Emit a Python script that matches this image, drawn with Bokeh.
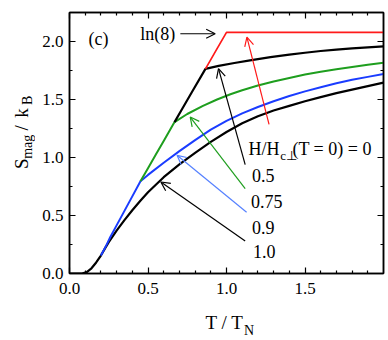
import numpy as np
from bokeh.plotting import figure
from bokeh.layouts import row, column
from bokeh.models import (LinearAxis, FixedTicker, Range1d, Label, Arrow, OpenHead,
                          PrintfTickFormatter)
from bokeh.embed import file_html
from bokeh.resources import INLINE

# ---------------- data ----------------
# H/Hc = 1.0 (black, lowest curve)
T_h10 = [0.0, 0.08, 0.11, 0.14, 0.17, 0.20, 0.23, 0.25, 0.30, 0.35, 0.40, 0.45, 0.50,
         0.55, 0.60, 0.70, 0.80, 0.90, 1.00, 1.10, 1.20, 1.30, 1.40, 1.50, 1.60,
         1.70, 1.80, 1.90, 2.00]
S_h10 = [0.0, 0.0, 0.012, 0.045, 0.095, 0.155, 0.225, 0.27, 0.37, 0.46, 0.545, 0.625, 0.70,
         0.765, 0.83, 0.94, 1.04, 1.135, 1.22, 1.295, 1.355, 1.405, 1.445, 1.485, 1.52,
         1.555, 1.585, 1.615, 1.645]
# H/Hc = 0.9 (blue)
T_h09 = [0.20, 0.23, 0.26, 0.30, 0.35, 0.40, 0.452, 0.50, 0.60, 0.70, 0.80, 0.90, 1.00,
         1.10, 1.20, 1.30, 1.40, 1.50, 1.60, 1.70, 1.80, 1.90, 2.00]
S_h09 = [0.155, 0.23, 0.315, 0.415, 0.54, 0.665, 0.795, 0.85, 0.955, 1.055, 1.15, 1.24, 1.315,
         1.38, 1.435, 1.485, 1.53, 1.57, 1.605, 1.64, 1.67, 1.695, 1.72]
# H/Hc = 0.75 (green)
T_h075 = [0.452, 0.50, 0.55, 0.60, 0.669, 0.75, 0.85, 0.94, 1.025, 1.10, 1.20, 1.30, 1.40,
          1.50, 1.60, 1.70, 1.80, 1.90, 2.00]
S_h075 = [0.795, 0.908, 1.025, 1.142, 1.305, 1.375, 1.445, 1.50, 1.545, 1.58, 1.62, 1.655,
          1.685, 1.715, 1.74, 1.76, 1.78, 1.80, 1.816]
# H/Hc = 0.5 (black, upper)
T_h05 = [0.669, 0.72, 0.78, 0.866, 0.95, 1.05, 1.15, 1.28, 1.40, 1.50, 1.60, 1.70, 1.80,
         1.90, 2.00]
S_h05 = [1.305, 1.424, 1.565, 1.764, 1.79, 1.815, 1.838, 1.865, 1.887, 1.903, 1.918, 1.93,
         1.941, 1.95, 1.958]
# H/Hc = 0 (red)
T_h0 = [0.866, 0.93, 1.00, 2.00]
S_h0 = [1.764, 1.915, 2.079, 2.079]

x_ticks = [0.0, 0.5, 1.0, 1.5]
x_minor = [0.1, 0.2, 0.3, 0.4, 0.6, 0.7, 0.8, 0.9, 1.1, 1.2, 1.3, 1.4, 1.6, 1.7, 1.8, 1.9]
y_ticks = [0.0, 0.5, 1.0, 1.5, 2.0]
y_minor = [0.25, 0.75, 1.25, 1.75]

field_labels = ["0.5", "0.75", "0.9", "1.0"]

# ---------------- styling ----------------
FONT = "Liberation Serif"
BLACK = "#000000"
RED = "#ff1a1a"
GREEN = "#1e9e1e"
BLUE = "#1a3cff"
LBLUE = "#5580ff"

YW = 35     # width of the strip holding the y title
MAIN_H = 305

p = figure(width=388 - YW, height=MAIN_H, x_range=Range1d(0, 2.0), y_range=Range1d(0, 2.25),
           output_backend="svg", toolbar_location=None,
           min_border_left=69 - YW, min_border_right=5, min_border_top=12,
           min_border_bottom=32)
p.xgrid.visible = False
p.ygrid.visible = False
p.outline_line_color = "black"
p.outline_line_width = 1.5
p.background_fill_color = "white"
p.border_fill_color = "white"


def style_axis(ax, ticks, minor, show):
    ax.ticker = FixedTicker(ticks=ticks, minor_ticks=minor)
    ax.axis_line_width = 1.5
    ax.axis_line_color = "black"
    ax.major_tick_in = 6
    ax.major_tick_out = 0
    ax.minor_tick_in = 3
    ax.minor_tick_out = 0
    ax.major_tick_line_width = 1.2
    ax.minor_tick_line_width = 1.2
    ax.major_tick_line_color = "black"
    ax.minor_tick_line_color = "black"
    if show:
        ax.formatter = PrintfTickFormatter(format="%.1f")
        ax.major_label_text_font = FONT
        ax.major_label_text_font_size = "17px"
        ax.major_label_text_color = "black"
    else:
        ax.major_label_text_font_size = "0px"
        ax.major_label_text_color = None
        ax.major_label_standoff = 0


style_axis(p.xaxis[0], x_ticks, x_minor, True)
p.xaxis[0].major_label_standoff = 9
style_axis(p.yaxis[0], y_ticks, y_minor, True)
p.yaxis[0].major_label_standoff = 6
top = LinearAxis()
style_axis(top, x_ticks, x_minor, False)
p.add_layout(top, "above")
right = LinearAxis()
style_axis(right, y_ticks, y_minor, False)
p.add_layout(right, "right")

# curves
p.line(T_h10, S_h10, line_color=BLACK, line_width=2.2)
p.line(T_h09, S_h09, line_color=BLUE, line_width=2.0)
p.line(T_h075, S_h075, line_color=GREEN, line_width=2.0)
p.line(T_h05, S_h05, line_color=BLACK, line_width=2.2)
p.line(T_h0, S_h0, line_color=RED, line_width=1.7)

# arrows: (x_start, y_start, x_end, y_end, colour)
arrows = [
    (0.706, 2.067, 0.928, 2.067, BLACK),
    (1.271, 1.286, 1.130, 2.038, RED),
    (1.119, 0.939, 0.949, 1.766, BLACK),
    (1.119, 0.732, 0.769, 1.349, GREEN),
    (1.128, 0.528, 0.685, 1.019, LBLUE),
    (1.119, 0.281, 0.582, 0.789, BLACK),
]
for xs, ys, xe, ye, c in arrows:
    p.add_layout(Arrow(x_start=xs, y_start=ys, x_end=xe, y_end=ye, line_color=c,
                       line_width=1.2,
                       end=OpenHead(size=9, line_color=c, line_width=1.2)))


def lab(fig, x, y, text, size="18px", base="alphabetic", angle=0.0):
    fig.add_layout(Label(x=x, y=y, text=text, text_font=FONT, text_font_size=size,
                         text_color="black", text_align="left", text_baseline=base,
                         angle=angle))


lab(p, 0.121, 2.022, "(c)", base="middle")
lab(p, 0.451, 2.065, "ln(8)", base="middle")
lab(p, 1.140, 1.077, "H/H")
lab(p, 1.342, 1.015, "c\u22a5", size="13px")
lab(p, 1.420, 1.077, "(T = 0) = 0")
label_y = [0.847, 0.617, 0.396, 0.186]
label_x = [1.162, 1.156, 1.162, 1.168]
for t, lx, ly in zip(field_labels, label_x, label_y):
    lab(p, lx, ly, t)


def strip(w, h, y0, y1):
    f = figure(width=w, height=h, x_range=Range1d(0, w), y_range=Range1d(y1, y0),
               output_backend="svg", toolbar_location=None,
               x_axis_type=None, y_axis_type=None,
               min_border_left=0, min_border_right=0, min_border_top=0, min_border_bottom=0)
    f.xgrid.visible = False
    f.ygrid.visible = False
    f.outline_line_color = None
    f.background_fill_color = "white"
    f.border_fill_color = "white"
    return f


# y-axis title strip (pixel coordinates, y downward)
ys = strip(YW, MAIN_H, 0, MAIN_H)
A = np.pi / 2
lab(ys, 20.5, 183, "S", size="19px", angle=A)
lab(ys, 27, 171, "mag", size="14px", angle=A)
lab(ys, 20.5, 138, "/", size="19px", angle=A)
lab(ys, 20.5, 123, "k", size="19px", angle=A)
lab(ys, 27, 108, "B", size="14px", angle=A)

# x-axis title strip (pixel coordinates, y downward, page y 305..340)
xs_ = strip(388, 340 - MAIN_H, MAIN_H, 340)
lab(xs_, 205, 321.7, "T / T", size="19px")
lab(xs_, 243.5, 330, "N", size="14px")

layout = column(row(ys, p, spacing=0), xs_, spacing=0)
open("out.html", "w").write(file_html(layout, INLINE))
